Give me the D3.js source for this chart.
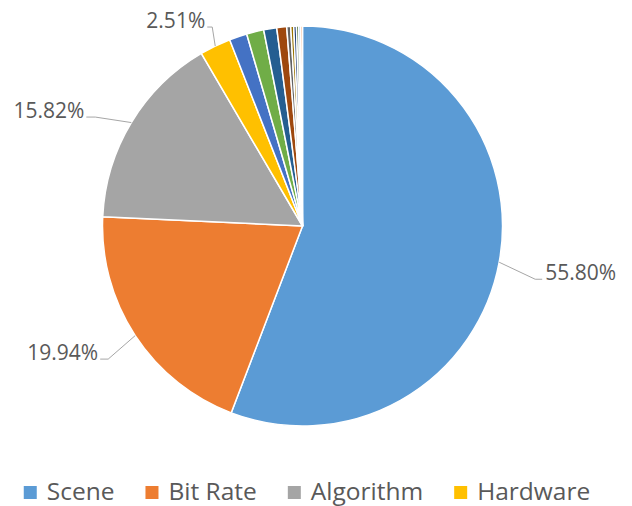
<!DOCTYPE html>
<html>
<head>
<meta charset="utf-8">
<script src="https://cdn.jsdelivr.net/npm/d3@7"></script>
<style>
  body { margin: 0; background: #fff; }
  text { font-family: "Open Sans", sans-serif; fill: #595959; }
</style>
</head>
<body>
<div class="container"></div>
<script>
// data (percent)
var categories = ["Scene", "Bit Rate", "Algorithm", "Hardware",
  "Other 1", "Other 2", "Other 3", "Other 4", "Other 5", "Other 6", "Other 7", "Other 8", "Other 9", "Other 10"];
var values = [55.80, 19.94, 15.82, 2.51, 1.43, 1.39, 1.05, 0.80, 0.32, 0.24, 0.22, 0.18, 0.15, 0.15];
var colors = ["#5B9BD5", "#ED7D31", "#A5A5A5", "#FFC000", "#4472C4", "#70AD47", "#255E91",
  "#9E480E", "#636363", "#997300", "#264478", "#43682B", "#7CAFDD", "#F1975A"];
var legendItems = ["Scene", "Bit Rate", "Algorithm", "Hardware"];
var labelled = ["Scene", "Bit Rate", "Algorithm", "Hardware"];

// canvas
var w = 632;
var h = 506;
var cx = 302.5, cy = 226, R = 200;

var svg = d3.select(".container")
  .append("svg")
  .attr("width", w)
  .attr("height", h);

var pie = d3.pie()
  .sort(null)
  .value(function(d, i) { return values[i]; });

var arc = d3.arc()
  .innerRadius(0)
  .outerRadius(R);

var arcs = pie(categories);

var g = svg.append("g")
  .attr("transform", "translate(" + cx + "," + cy + ")");

g.selectAll("path")
  .data(arcs)
  .enter()
  .append("path")
  .attr("d", arc)
  .attr("fill", function(d, i) { return colors[i]; })
  .attr("stroke", "#fff")
  .attr("stroke-width", 1.5);

// label leader offsets from the slice edge: elbow, end of line
var leader = {
  "Scene":     { ex: 36, ey: 17, lx: 43 },
  "Bit Rate":  { ex: -27, ey: 23.5, lx: -35 },
  "Algorithm": { ex: -36, ey: -5.5, lx: -45 },
  "Hardware":  { ex: -3, ey: -19, lx: -8 }
};

arcs.forEach(function(d) {
  if (labelled.indexOf(d.data) < 0) return;
  var a = (d.startAngle + d.endAngle) / 2;
  var px = R * Math.sin(a), py = -R * Math.cos(a);
  var o = leader[d.data];
  var right = o.lx > 0;
  g.append("polyline")
    .attr("points", [[px, py], [px + o.ex, py + o.ey], [px + o.lx, py + o.ey]].join(" "))
    .attr("fill", "none")
    .attr("stroke", "#A6A6A6")
    .attr("stroke-width", 1);
  g.append("text")
    .attr("x", px + o.lx + (right ? 3 : -2))
    .attr("y", py + o.ey + 1)
    .attr("text-anchor", right ? "start" : "end")
    .style("font-size", "21px")
    .text(d3.format(".2f")(d.value) + "%");
});

// legend
var legend = svg.append("g").attr("class", "legend");
var xpos = 0;
legendItems.forEach(function(name) {
  var i = categories.indexOf(name);
  var item = legend.append("g").attr("transform", "translate(" + xpos + ",0)");
  item.append("rect")
    .attr("x", 0).attr("y", -14)
    .attr("width", 13).attr("height", 13)
    .attr("fill", colors[i]);
  var t = item.append("text")
    .attr("x", 23).attr("y", 0)
    .style("font-size", "24.5px")
    .text(name);
  xpos += 23 + t.node().getComputedTextLength() + 31;
});
var lw = xpos - 31;
legend.attr("transform", "translate(" + (307 - lw / 2) + ",500)");
</script>
</body>
</html>
